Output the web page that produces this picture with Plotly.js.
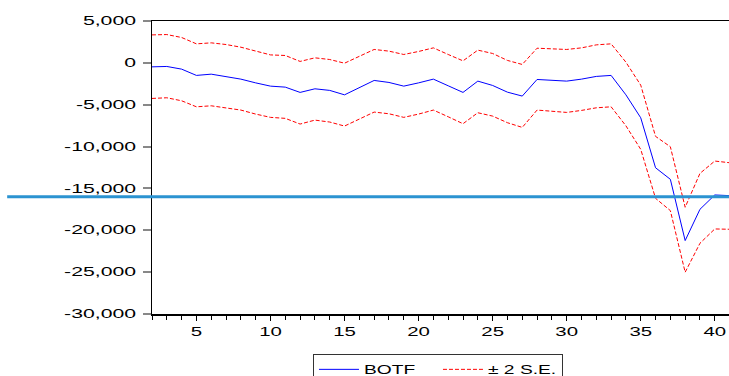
<!DOCTYPE html>
<html>
<head>
<meta charset="utf-8">
<script src="https://cdn.plot.ly/plotly-3.0.1.min.js"></script>
<style>html,body{margin:0;padding:0;background:#fff;}#chart{width:729px;height:376px;}</style>
</head>
<body>
<div id="chart"></div>
<script>
const periods = [2,3,4,5,6,7,8,9,10,11,12,13,14,15,16,17,18,19,20,21,22,23,24,25,26,27,28,29,30,31,32,33,34,35,36,37,38,39,40,41];
const botf = [-477,-430,-750,-1500,-1350,-1620,-1945,-2390,-2780,-2900,-3530,-3100,-3290,-3820,-2980,-2100,-2340,-2780,-2390,-1945,-2740,-3530,-2180,-2700,-3500,-3970,-1985,-2065,-2180,-1945,-1620,-1500,-3820,-6560,-12530,-13910,-21230,-17490,-15780,-15860];
const upperSE = [3340,3380,3030,2270,2390,2190,1870,1400,950,880,170,600,400,-40,800,1600,1400,1000,1360,1790,1000,240,1520,1120,290,-190,1750,1630,1600,1790,2150,2270,80,-2660,-8780,-10020,-17250,-13200,-11730,-11930];
const lowerSE = [-4250,-4170,-4530,-5250,-5130,-5370,-5640,-6120,-6510,-6630,-7310,-6840,-7070,-7550,-6720,-5880,-6080,-6510,-6120,-5640,-6440,-7270,-5960,-6360,-7150,-7710,-5640,-5800,-5920,-5680,-5370,-5250,-7520,-10330,-16180,-17650,-25010,-21550,-19840,-19880];
const yTickVals = [5000,0,-5000,-10000,-15000,-20000,-25000,-30000];
const yTickText = ["5,000","0","-5,000","-10,000","-15,000","-20,000","-25,000","-30,000"];
const xTickVals = [5,10,15,20,25,30,35,40];
const refLevel = -16000;

const traces = [
  {x: periods, y: botf, type: 'scatter', mode: 'lines', name: 'BOTF',
   line: {color: '#0000ff', width: 1}},
  {x: periods, y: upperSE, type: 'scatter', mode: 'lines', name: '± 2 S.E.',
   legendgroup: 'se', line: {color: '#ff0000', width: 1, dash: '4px,2px'}},
  {x: periods, y: lowerSE, type: 'scatter', mode: 'lines', name: '± 2 S.E.',
   legendgroup: 'se', showlegend: false, line: {color: '#ff0000', width: 1, dash: '4px,2px'}}
];

const font = {family: 'Liberation Sans, Arial, sans-serif', size: 12, color: '#000'};

const layout = {
  width: 729, height: 376,
  margin: {l: 152, r: 0, t: 21, b: 62, autoexpand: false},
  paper_bgcolor: '#fff', plot_bgcolor: '#fff',
  font: font,
  showlegend: true,
  legend: {orientation: 'h', x: 0.279, xanchor: 'left', y: -0.136, yanchor: 'top',
    bordercolor: '#333', borderwidth: 1, font: font, traceorder: 'normal',
    itemwidth: 40, entrywidth: 69},
  xaxis: {range: [2, 40.96], showgrid: false, zeroline: false,
    showline: true, linecolor: '#000', linewidth: 1.5, mirror: true,
    tickvals: xTickVals, ticks: 'outside', ticklen: 5, tickcolor: '#000', tickwidth: 1,
    minor: {dtick: 1, tick0: 0, ticks: 'outside', ticklen: 4, tickcolor: '#000', tickwidth: 1},
    tickfont: font, ticklabelstandoff: 1},
  yaxis: {range: [-30000, 5000], showgrid: false, zeroline: false,
    showline: true, linecolor: '#000', linewidth: 1.5,
    tickvals: yTickVals, ticktext: yTickText, ticks: 'outside', ticklen: 8,
    tickcolor: '#888', tickwidth: 2, tickfont: font, ticklabelstandoff: 4},
  shapes: [{type: 'line', xref: 'paper', yref: 'y', x0: -0.251, x1: 1,
    y0: refLevel, y1: refLevel, line: {color: '#2b93d1', width: 3}, layer: 'above'}]
};

function stretchText(root, selector, factor) {
  root.querySelectorAll(selector).forEach(function (t) {
    const w = t.getComputedTextLength();
    if (w > 0) {
      t.setAttribute('textLength', (w * factor).toFixed(1));
      t.setAttribute('lengthAdjust', 'spacingAndGlyphs');
    }
  });
}

Plotly.newPlot('chart', traces, layout, {displayModeBar: false, staticPlot: true}).then(function (gd) {
  stretchText(gd, '.ytick text', 1.77);
  stretchText(gd, '.xtick text', 1.7);
  stretchText(gd, '.legendtext', 1.6);
});
</script>
</body>
</html>
